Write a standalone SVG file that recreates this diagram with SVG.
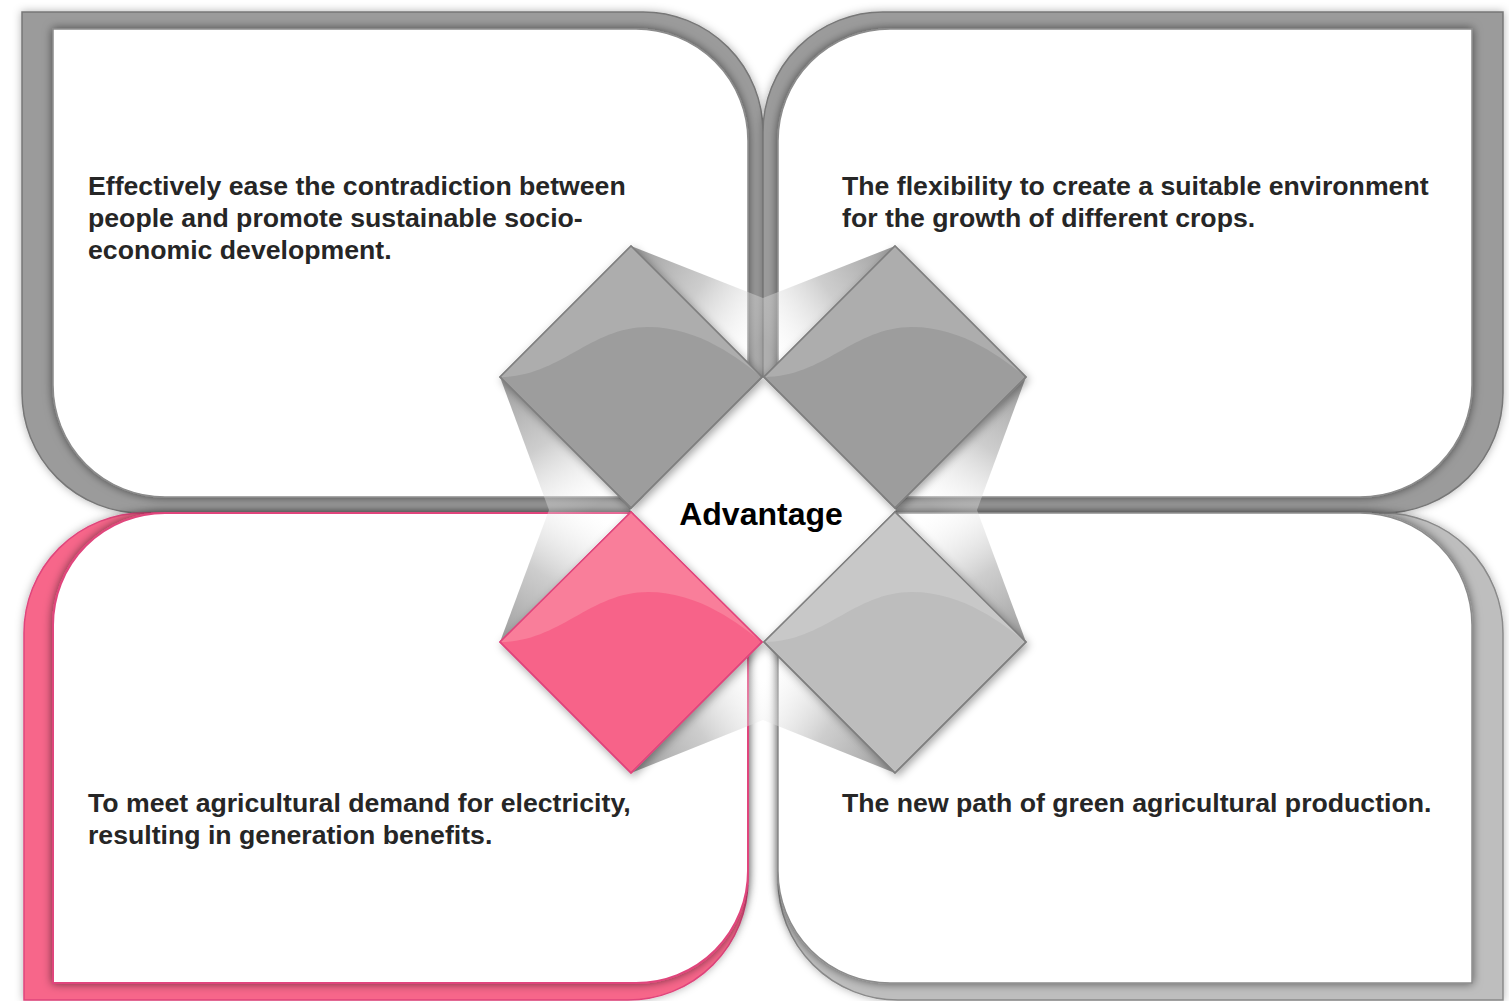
<svg xmlns="http://www.w3.org/2000/svg" width="1509" height="1001" viewBox="0 0 1509 1001">
<defs>
<style>
.txt{font-family:"Liberation Sans",Arial,sans-serif;font-weight:bold;font-size:26.67px;fill:#262626}
.title{font-family:"Liberation Sans",Arial,sans-serif;font-weight:bold;font-size:32px;fill:#000000}
.band-g{fill:#9b9b9b;stroke:#777777;stroke-width:1.5}
.band-l{fill:#bebebe;stroke:#8a8a8a;stroke-width:1.5}
.band-p{fill:#f7668a;stroke:#e0457c;stroke-width:1.5}
.pan{fill:#ffffff;stroke:#8c8c8c;stroke-width:1.5}
.pan-p{fill:#ffffff;stroke:#e0457c;stroke-width:2}
.dg{stroke:#7f7f7f;stroke-width:1.5}
.dp{stroke:#e0457c;stroke-width:1.5}
</style>
<filter id="outer" x="-10%" y="-10%" width="120%" height="120%"><feDropShadow dx="0" dy="0" stdDeviation="4" flood-color="#000" flood-opacity="0.3"/></filter>
<filter id="inner" x="-10%" y="-10%" width="120%" height="120%"><feDropShadow dx="0" dy="0" stdDeviation="5" flood-color="#000" flood-opacity="0.55"/></filter>
<filter id="dsh" x="-20%" y="-20%" width="140%" height="140%"><feDropShadow dx="2" dy="3" stdDeviation="4" flood-color="#000" flood-opacity="0.35"/></filter>
<linearGradient id="fold"><stop offset="0" stop-color="#959595" stop-opacity="0.95"/><stop offset="0.5" stop-color="#b8b8b8" stop-opacity="0.7"/><stop offset="1" stop-color="#ffffff" stop-opacity="0.2"/></linearGradient>
<linearGradient id="f1" href="#fold" gradientUnits="userSpaceOnUse" x1="631" y1="246" x2="763" y2="337"/>
<linearGradient id="f2" href="#fold" gradientUnits="userSpaceOnUse" x1="500" y1="377" x2="590" y2="510"/>
<linearGradient id="f3" href="#fold" gradientUnits="userSpaceOnUse" x1="895" y1="246" x2="763" y2="337"/>
<linearGradient id="f4" href="#fold" gradientUnits="userSpaceOnUse" x1="1026" y1="377" x2="936" y2="510"/>
<linearGradient id="f5" href="#fold" gradientUnits="userSpaceOnUse" x1="500" y1="642" x2="590" y2="510"/>
<linearGradient id="f6" href="#fold" gradientUnits="userSpaceOnUse" x1="631" y1="773" x2="763" y2="681"/>
<linearGradient id="f7" href="#fold" gradientUnits="userSpaceOnUse" x1="1026" y1="642" x2="936" y2="510"/>
<linearGradient id="f8" href="#fold" gradientUnits="userSpaceOnUse" x1="895" y1="773" x2="763" y2="681"/>
</defs>

<rect x="0" y="0" width="1509" height="1001" fill="#ffffff"/>

<g id="panel-top-left">
<path class="band-g" filter="url(#outer)" d="M22,12 L643,12 A120,120 0 0 1 763,132 L763,513 L142,513 A120,120 0 0 1 22,393 Z"/>
<path class="pan" filter="url(#inner)" d="M53,29 L636,29 A112,112 0 0 1 748,141 L748,497 L165,497 A112,112 0 0 1 53,385 Z"/>
<text class="txt" x="88" y="195">Effectively ease the contradiction between</text>
<text class="txt" x="88" y="227">people and promote sustainable socio-</text>
<text class="txt" x="88" y="259">economic development.</text>
</g>

<g id="panel-top-right">
<path class="band-g" filter="url(#outer)" d="M883,12 L1503,12 L1503,393 A120,120 0 0 1 1383,513 L763,513 L763,132 A120,120 0 0 1 883,12 Z"/>
<path class="pan" filter="url(#inner)" d="M890,29 L1472,29 L1472,385 A112,112 0 0 1 1360,497 L778,497 L778,141 A112,112 0 0 1 890,29 Z"/>
<text class="txt" x="842" y="195">The flexibility to create a suitable environment</text>
<text class="txt" x="842" y="227">for the growth of different crops.</text>
</g>

<g id="panel-bottom-left">
<path class="band-p" filter="url(#outer)" d="M144,513 L748,513 L748,880 A120,120 0 0 1 628,1000 L24,1000 L24,633 A120,120 0 0 1 144,513 Z"/>
<path class="pan-p" filter="url(#inner)" d="M165,513 L748,513 L748,871 A112,112 0 0 1 636,983 L53,983 L53,625 A112,112 0 0 1 165,513 Z"/>
<text class="txt" x="88" y="812">To meet agricultural demand for electricity,</text>
<text class="txt" x="88" y="844">resulting in generation benefits.</text>
</g>

<g id="panel-bottom-right">
<path class="band-l" filter="url(#outer)" d="M778,513 L1383,513 A120,120 0 0 1 1503,633 L1503,1000 L898,1000 A120,120 0 0 1 778,880 Z"/>
<path class="pan" filter="url(#inner)" d="M778,513 L1360,513 A112,112 0 0 1 1472,625 L1472,983 L890,983 A112,112 0 0 1 778,871 Z"/>
<text class="txt" x="842" y="812">The new path of green agricultural production.</text>
</g>

<g id="connectors">
<polygon points="631,246 763,298 763,377" fill="url(#f1)"/>
<polygon points="500,377 549,510 631,510" fill="url(#f2)"/>
<polygon points="895,246 763,298 763,377" fill="url(#f3)"/>
<polygon points="1026,377 977,510 895,510" fill="url(#f4)"/>
<polygon points="500,642 549,510 631,510" fill="url(#f5)"/>
<polygon points="631,773 763,720 763,642" fill="url(#f6)"/>
<polygon points="1026,642 977,510 895,510" fill="url(#f7)"/>
<polygon points="895,773 763,720 763,642" fill="url(#f8)"/>
</g>

<g id="center">
<polygon points="763,377 896,510 763,643 630,510" fill="#ffffff"/>
</g>

<g id="diamond-top-left" filter="url(#dsh)">
<polygon class="dg" points="631,246 762,377 631,508 500,377" fill="#9d9d9d"/>
<path d="M500,377 L631,246 L762,377 C740,360 700,327 648,327 C590,327 560,377 500,377 Z" fill="#adadad"/>
<polygon points="631,246 762,377 631,508 500,377" fill="none" class="dg"/>
</g>
<g id="diamond-top-right" filter="url(#dsh)">
<polygon class="dg" points="895,246 1026,377 895,508 764,377" fill="#9d9d9d"/>
<path d="M764,377 L895,246 L1026,377 C1004,360 964,327 912,327 C854,327 824,377 764,377 Z" fill="#adadad"/>
<polygon points="895,246 1026,377 895,508 764,377" fill="none" class="dg"/>
</g>
<g id="diamond-bottom-left" filter="url(#dsh)">
<polygon class="dp" points="631,512 762,642 631,773 500,642" fill="#f76489"/>
<path d="M500,642 L631,512 L762,642 C740,625 700,592 648,592 C590,592 560,642 500,642 Z" fill="#f97e9a"/>
<polygon points="631,512 762,642 631,773 500,642" fill="none" class="dp"/>
</g>
<g id="diamond-bottom-right" filter="url(#dsh)">
<polygon class="dg" points="895,512 1026,642 895,773 764,642" fill="#bdbdbd"/>
<path d="M764,642 L895,512 L1026,642 C1004,625 964,592 912,592 C854,592 824,642 764,642 Z" fill="#c8c8c8"/>
<polygon points="895,512 1026,642 895,773 764,642" fill="none" class="dg"/>
</g>

<g id="center-label">
<text class="title" x="761" y="525" text-anchor="middle">Advantage</text>
</g>
</svg>
